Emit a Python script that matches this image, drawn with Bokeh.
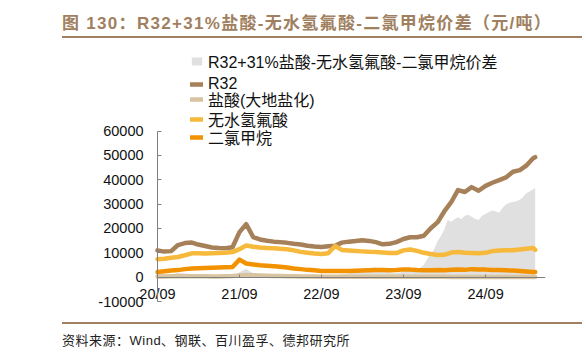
import pandas as pd
from bokeh.plotting import figure
from bokeh.models import (Range1d, FixedTicker, DatetimeTickFormatter, Legend,
                          LegendItem, Div, NumeralTickFormatter)
from bokeh.layouts import column
from bokeh.embed import file_html
from bokeh.resources import INLINE

# ---------------- data ----------------
month_dates = list(pd.date_range("2020-09-01", "2025-04-01", freq="MS")) + [pd.Timestamp("2025-04-10")]

r32 = [11000, 10500, 10700, 13200, 14000, 14200, 13400, 12800, 12200, 12000, 11900, 12300,
       18500, 21800, 16500, 15500, 15000, 14600, 14400, 14100, 13700, 13400, 12900, 12600,
       12400, 12700, 12900, 14200, 14600, 14900, 15200, 14900, 14400, 13500, 13700, 14400,
       15700, 16400, 16400, 17000, 20100, 22600, 27000, 30800, 35800, 35000, 37000, 35500,
       37500, 38800, 39900, 41000, 43300, 44000, 45800, 48900, 49300]

hcl = [300, 300, 350, 400, 400, 400, 350, 350, 300, 300, 400, 500,
       700, 900, 800, 700, 600, 500, 500, 400, 400, 300, 300, 300,
       200, 200, 200, 200, 200, 200, 200, 200, 200, 200, 200, 200,
       200, 200, 150, 150, 150, 150, 150, 100, 100, 100, 100, 100,
       100, 100, 100, 100, 100, 100, 100, 100, 100]

hf = [7400, 7600, 8000, 8300, 9000, 9800, 9800, 9700, 9800, 9900, 10000, 10300,
      11500, 13000, 12500, 12200, 12000, 11900, 11700, 11500, 11000, 10400, 10000, 9700,
      9500, 9800, 12800, 11200, 11000, 10800, 10600, 10400, 10300, 10100, 9900, 9900,
      11000, 11400, 10800, 10000, 9500, 9100, 9200, 10100, 10300, 10000, 9900, 9800,
      10000, 10700, 11000, 11100, 11100, 11400, 11700, 12000, 11200]

dcm = [2100, 2400, 2700, 2900, 3300, 3600, 3700, 3800, 3900, 4000, 4100, 4200,
       7200, 5600, 5200, 4900, 4700, 4500, 4300, 4000, 3600, 3300, 3000, 2800,
       2500, 2500, 2500, 2500, 2500, 2600, 2700, 2800, 2900, 2900, 2800, 2900,
       3200, 3100, 2900, 2800, 2800, 2900, 2800, 3000, 3100, 3000, 3300, 3200,
       3100, 2900, 2900, 2800, 2700, 2500, 2300, 2100, 2100]

spread_early_dates = list(pd.date_range("2020-09-01", "2023-09-01", freq="MS"))
spread_early = [1500, 1200, 1000, 1800, 1500, 1200, 1000, 800, 600, 500, 500, 600,
                2000, 3500, 1500, 1000, 800, 600, 500, 500, 400, 400, 300, 300,
                300, 300, 500, 1200, 1500, 2500, 3500, 3800, 4000, 3000, 2000, 1500,
                2300]

spread_late_dates = []
for m in pd.date_range("2023-10-01", "2025-03-01", freq="MS"):
    spread_late_dates += [m, m + pd.Timedelta(days=15)]
spread_late_dates += [pd.Timestamp("2025-04-01"), pd.Timestamp("2025-04-10")]
spread_late = [2500, 2800, 3200, 4000, 5000, 7500, 9500, 11500, 15000, 17000,
               19500, 23500, 22800, 23800, 24600, 23900, 25200, 25600, 24800, 24000,
               23500, 25200, 26000, 26800, 27400, 27000, 26500, 28500, 30000, 30600,
               30900, 31200, 31800, 33000, 34500, 35200, 36000, 36600]

spread_dates = spread_early_dates + spread_late_dates
spread = spread_early + spread_late

x_tick_dates = ["2020-09-01", "2021-09-01", "2022-09-01", "2023-09-01", "2024-09-01"]
y_ticks = [-10000, 0, 10000, 20000, 30000, 40000, 50000, 60000]

labels = ["R32+31%盐酸-无水氢氟酸-二氯甲烷价差", "R32", "盐酸(大地盐化)", "无水氢氟酸", "二氯甲烷"]
colors = ["#e0e0e0", "#a68058", "#d8c4a0", "#f6b93b", "#f39200"]

FONT_MIX = "'Liberation Sans', 'Noto Sans CJK SC'"

# ---------------- figure ----------------
origin = pd.Timestamp("2020-09-01")
p = figure(width=582, height=273, x_axis_type="datetime",
           x_range=Range1d(origin - pd.Timedelta(days=343), pd.Timestamp("2025-05-26")),
           y_range=Range1d(-14520, 95200),
           output_backend="svg", toolbar_location=None,
           min_border_left=80, min_border_right=37, min_border_top=6, min_border_bottom=0)

p.outline_line_color = None
p.xgrid.visible = False
p.ygrid.visible = False
p.background_fill_color = "white"

r_sp = p.varea(x=spread_dates, y1=[0] * len(spread), y2=spread, fill_color=colors[0])
lw = 4.5
r_r32 = p.line(month_dates, r32, line_color=colors[1], line_width=lw, line_cap="round", line_join="round")
r_hcl = p.line(month_dates, hcl, line_color=colors[2], line_width=lw, line_cap="round", line_join="round")
r_hf = p.line(month_dates, hf, line_color=colors[3], line_width=lw, line_cap="round", line_join="round")
r_dcm = p.line(month_dates, dcm, line_color=colors[4], line_width=lw, line_cap="round", line_join="round")

# axes (both pinned inside the frame: x at y=0, y at 20/09)
xa = p.xaxis[0]
xa.fixed_location = 0
xa.bounds = (origin, pd.Timestamp("2025-05-26"))
xa.ticker = FixedTicker(ticks=[pd.Timestamp(d).value // 10**6 for d in x_tick_dates])
xa.formatter = DatetimeTickFormatter(years="%y/%m", months="%y/%m", days="%y/%m",
                                     hours="%y/%m", minutes="%y/%m", seconds="%y/%m",
                                     milliseconds="%y/%m", microseconds="%y/%m")
ya = p.yaxis[0]
ya.fixed_location = origin.value // 10**6
ya.ticker = FixedTicker(ticks=y_ticks)
ya.formatter = NumeralTickFormatter(format="0")
ya.bounds = (-10000, 60000)

for ax in (xa, ya):
    ax.axis_line_color = "#808080"
    ax.major_tick_line_color = "#808080"
    ax.minor_tick_line_color = None
    ax.major_tick_out = 0
    ax.major_label_text_font = "Liberation Sans"
    ax.major_label_text_font_size = "14.5px"
    ax.major_label_text_color = "#111111"
xa.major_tick_in = 3
ya.major_tick_in = 4
xa.major_label_standoff = 9
ya.major_label_standoff = 14

# one single-row legend per series so that the row pitch matches the reference
renderers = [r_sp, r_r32, r_hcl, r_hf, r_dcm]
legend_bottoms = [239, 219, 201, 181, 163]
for lab, rend, yb in zip(labels, renderers, legend_bottoms):
    lg = Legend(items=[LegendItem(label=lab, renderers=[rend])], location=(110, yb))
    lg.glyph_width = 13
    lg.glyph_height = 10
    lg.label_height = 19
    lg.spacing = 0
    lg.padding = 0
    lg.margin = 0
    lg.label_standoff = 5
    lg.border_line_color = None
    lg.background_fill_alpha = 0
    lg.label_text_font = FONT_MIX
    lg.label_text_font_size = "16px"
    lg.label_text_color = "#111111"
    p.add_layout(lg)

title_div = Div(text=('<div style="margin-left:62px;width:520px;padding-top:12px;'
                      'border-bottom:2px solid #a08060;color:#a08060;'
                      "font-family:'Liberation Sans','Noto Sans CJK SC';font-weight:bold;"
                      'font-size:17px;line-height:24px;'
                      'white-space:nowrap;letter-spacing:1.3px;">'
                      '图 130：R32+31%盐酸-无水氢氟酸-二氯甲烷价差（元/吨）</div>'),
                width=582, height=39, margin=0)

footer_div = Div(text=('<div style="margin-left:62px;width:520px;margin-top:10px;'
                       'border-top:2px solid #a08060;padding-top:7px;'
                       "font-family:'Liberation Sans','Noto Sans CJK SC';"
                       'font-size:13px;line-height:20px;color:#222222;white-space:nowrap;'
                       'letter-spacing:0.5px;">'
                       '资料来源：Wind、钢联、百川盈孚、德邦研究所</div>'),
                 width=582, height=47, margin=0)

layout = column(title_div, p, footer_div, spacing=0)

open("out.html", "w").write(file_html(layout, INLINE))
